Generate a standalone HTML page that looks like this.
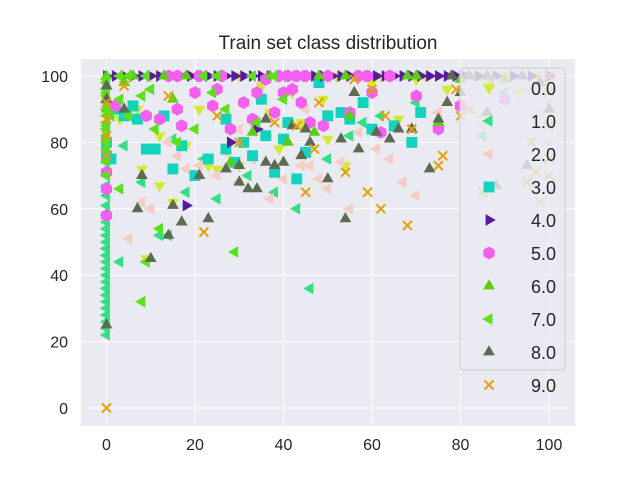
<!DOCTYPE html>
<html><head><meta charset="utf-8"><style>
body{margin:0;background:#fff;}
svg text{font-family:"Liberation Sans","DejaVu Sans",sans-serif;fill:#262626;}
</style></head><body>
<svg id="chart" width="640" height="480" viewBox="0 0 640 480">
<rect x="81" y="59" width="494" height="367" fill="#eaeaf2"/>
<g id="grid"></g>
<g id="marks"></g>
<g id="legend"></g>
<g id="ticks"></g>
<text x="328" y="49" text-anchor="middle" font-size="19">Train set class distribution</text>
</svg>
<script>
const classLabels=["0.0","1.0","2.0","3.0","4.0","5.0","6.0","7.0","8.0","9.0"];
const xTicks=[0,20,40,60,80,100];
const yTicks=[0,20,40,60,80,100];
const class0=[[0,89],[3,87],[7,90],[8,72],[9,45],[12,82],[15,62],[18,79],[21,90],[23,73],[27,78],[30,73],[33,86],[35,97],[37,89],[42,95],[44,86],[49,93],[50,81],[54,73],[60,98],[66,87],[70,99],[77,96],[86,98],[93,95],[25,72],[12,67],[39,78],[10,100],[30,100],[52,100],[72,100],[97,100],[62,100],[84,100],[91,100]];
const class1=[[0,22],[0,24],[0,26],[0,28],[0,30],[0,32],[0,34],[0,36],[0,38],[0,40],[0,42],[0,44],[0,46],[0,48],[0,50],[0,52],[0,54],[0,56],[0,58],[0,61],[0,64],[0,67],[4,79],[8,68],[12,52],[15,81],[18,65],[22,75],[25,63],[32,70],[38,65],[43,60],[46,36],[50,75],[55,82],[58,86],[62,88],[70,92],[85,82],[90,95],[100,98],[3,44],[14,52]];
const class2=[[0,90],[5,51],[8,62],[10,60],[14,80],[16,76],[18,72],[21,73],[25,70],[27,77],[30,68],[33,75],[37,63],[40,69],[44,73],[46,73],[48,69],[50,66],[53,74],[57,83],[61,78],[64,75],[67,68],[70,64],[75,89],[80,92],[85,85],[90,94],[95,96],[98,89],[100,98],[30,84],[55,60],[45,90],[88,100],[65,100],[100,92],[100,86],[100,80]];
const class3=[[0,80],[0,76],[1,75],[2,90],[4,88],[6,91],[9,78],[11,78],[13,88],[15,72],[17,79],[20,70],[23,75],[27,78],[29,74],[31,80],[33,76],[36,82],[38,71],[40,81],[43,69],[45,77],[50,88],[53,89],[55,87],[58,92],[60,84],[65,85],[69,80],[71,89],[27,87],[41,86],[48,98],[7,87],[35,93]];
const class4=[[0,100],[2,100],[4,100],[6,100],[8,100],[10,100],[12,100],[15,100],[17,100],[19,100],[21,100],[23,100],[25,100],[27,100],[29,100],[31,100],[33,100],[35,100],[37,100],[39,100],[41,100],[43,100],[45,100],[47,100],[49,100],[51,100],[53,100],[55,100],[57,100],[59,100],[61,100],[63,100],[65,100],[67,100],[69,100],[71,100],[73,100],[75,100],[77,100],[79,100],[81,100],[84,100],[88,100],[92,100],[96,100],[100,100],[18,61],[28,80],[34,84]];
const class5=[[0,58],[0,66],[0,71],[2,91],[9,88],[12,87],[16,90],[17,85],[20,95],[24,91],[28,84],[31,92],[34,95],[36,99],[38,89],[40,95],[42,96],[44,92],[46,86],[49,85],[55,89],[60,95],[62,83],[70,94],[75,84],[80,91],[90,93],[25,96],[33,87],[14,100],[21,100],[41,100],[45,100],[57,100],[64,100],[16,100],[26,100],[39,100],[43,100],[50,100],[59,100]];
const class6=[[0,97],[0,90],[4,98],[15,93],[28,74],[33,83],[41,80],[47,83],[55,88],[75,86],[80,99],[90,99],[18,100],[37,100],[68,100],[82,100],[0,100],[6,100],[13,100],[48,100],[54,100],[70,100]];
const class7=[[0,85],[0,95],[0,70],[0,74],[0,78],[0,80],[0,82],[0,84],[0,86],[0,88],[0,90],[0,92],[0,94],[0,96],[0,98],[0,99],[1,88],[3,66],[5,88],[8,32],[9,44],[12,54],[16,80],[20,84],[24,95],[27,90],[29,47],[34,86],[40,93],[3,93],[8,94],[10,96],[11,84],[5,100],[25,100],[33,100],[3,100],[9,100],[22,100],[38,100]];
const class8=[[0,25],[0,93],[0,97],[4,90],[7,60],[8,70],[10,45],[14,52],[15,61],[17,56],[21,70],[23,57],[27,72],[30,73],[32,66],[34,66],[36,74],[38,73],[40,74],[42,85],[44,76],[46,80],[50,69],[53,81],[54,57],[57,78],[61,83],[64,81],[66,84],[69,84],[73,72],[75,87],[77,92],[80,95],[86,89],[88,67],[95,73],[98,98],[100,90],[56,95],[36,87],[30,68],[45,84],[78,100],[94,100],[82,100],[86,100]];
const class9=[[0,0],[0,76],[0,82],[0,87],[0,92],[4,97],[22,53],[30,80],[45,65],[54,71],[59,65],[62,60],[68,55],[69,84],[75,73],[76,76],[79,96],[87,98],[95,68],[98,62],[14,94],[25,88],[43,85],[48,92],[56,99],[60,96],[38,86],[80,88],[82,90],[47,78],[63,88],[85,65],[97,71],[100,95],[100,85],[96,80],[100,75],[100,70],[100,100]];
const series=[class0,class1,class2,class3,class4,class5,class6,class7,class8,class9];
const colors=["#d3ea30","#35de85","#f4cdc4","#12d3bc","#581a9c","#f55ff0","#5ccd12","#5ce01c","#5d6b50","#e3a007"];
const shapes=["tdown","tleft","tleft","square","tright","hex","tup","tleft","tup","x"];
const X=v=>106.5+v*4.425, Y=v=>408-v*3.32;
const NS="http://www.w3.org/2000/svg";
function mk(tag,attrs,parent){const e=document.createElementNS(NS,tag);for(const k in attrs)e.setAttribute(k,attrs[k]);parent.appendChild(e);return e;}
function marker(shape,cx,cy,col,parent,r){
  r=r||6.8;let e;
  if(shape==="square")e=mk("rect",{x:cx-r*0.8,y:cy-r*0.8,width:r*1.6,height:r*1.6,fill:col},parent);
  else if(shape==="x"){e=mk("path",{d:`M${cx-4.5},${cy-4.5}L${cx+4.5},${cy+4.5}M${cx-4.5},${cy+4.5}L${cx+4.5},${cy-4.5}`,stroke:col,"stroke-width":2,fill:"none"},parent);}
  else if(shape==="hex"){let p=[];for(let i=0;i<6;i++){const a=Math.PI/6+i*Math.PI/3;p.push((cx+r*0.95*Math.cos(a)).toFixed(1)+","+(cy+r*0.95*Math.sin(a)).toFixed(1));}e=mk("polygon",{points:p.join(" "),fill:col},parent);}
  else{const rot={tup:-90,tdown:90,tleft:180,tright:0}[shape];let p=[];for(let i=0;i<3;i++){const a=(rot+i*120)*Math.PI/180;p.push((cx+r*Math.cos(a)).toFixed(1)+","+(cy+r*Math.sin(a)).toFixed(1));}e=mk("polygon",{points:p.join(" "),fill:col},parent);}
  return e;
}
const grid=document.getElementById("grid"),ticks=document.getElementById("ticks");
xTicks.forEach(t=>{const l=mk("line",{x1:X(t),x2:X(t),y1:59,y2:426,stroke:"#fff","stroke-width":1},grid);


const tx=mk("text",{x:X(t),y:450,"text-anchor":"middle","font-size":16},ticks);tx.textContent=t;

});
yTicks.forEach(t=>{const l=mk("line",{x1:81,x2:575,y1:Y(t),y2:Y(t),stroke:"#fff","stroke-width":1},grid);


const tx=mk("text",{x:68,y:Y(t)+6,"text-anchor":"end","font-size":16},ticks);tx.textContent=t;

});
const marks=document.getElementById("marks");
series.forEach((s,i)=>{const g=mk("g",{},marks);


s.forEach(p=>{const m=marker(shapes[i],X(p[0]),Y(p[1]),colors[i],g);

});});
const lg=document.getElementById("legend");


mk("rect",{x:460,y:68,width:105,height:302,rx:3,fill:"#eaeaf2","fill-opacity":0.82,stroke:"#cccccc","stroke-width":1},lg);
classLabels.forEach((lab,i)=>{const cy=88+i*33;const g=mk("g",{},lg);


marker(shapes[i],489,cy,colors[i],g);
const t=mk("text",{x:556,y:cy+7,"text-anchor":"end","font-size":18},g);t.textContent=lab;});
</script>
</body></html>
